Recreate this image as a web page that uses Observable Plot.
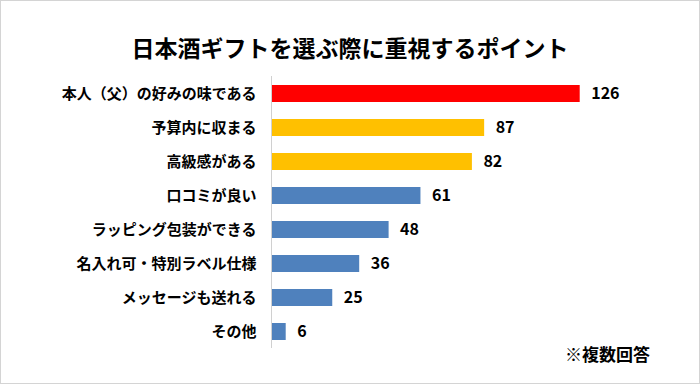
<!DOCTYPE html>
<html>
<head>
<meta charset="utf-8">
<script src="https://cdn.jsdelivr.net/npm/d3@7"></script>
<script src="https://cdn.jsdelivr.net/npm/@observablehq/plot@0.6"></script>
<style>
  body { margin: 0; background: #fff; }
  #wrap { position: relative; width: 700px; height: 384px; overflow: hidden; font-family: 'Noto Sans CJK JP', sans-serif; color: #000; }
  #wrap svg { position: absolute; left: 0; top: 0; }
  #title { position: absolute; left: 0; width: 700px; top: 34px; text-align: center; font-size: 23px; font-weight: bold; line-height: 26px; }
  #note { position: absolute; right: 50px; top: 344px; font-size: 17px; font-weight: bold; line-height: 20px; }
  #border { position: absolute; left: 0; top: 0; width: 700px; height: 384px; box-sizing: border-box; border: 1px solid #d4d4d4; pointer-events: none; }
</style>
</head>
<body>
<div id="wrap">
  <div id="title"></div>
  <div id="note"></div>
  <div id="border"></div>
</div>
<script>
const titleText = "日本酒ギフトを選ぶ際に重視するポイント";
const noteText = "※複数回答";
const categories = [
  "本人（父）の好みの味である",
  "予算内に収まる",
  "高級感がある",
  "口コミが良い",
  "ラッピング包装ができる",
  "名入れ可・特別ラベル仕様",
  "メッセージも送れる",
  "その他"
];
const values = [126, 87, 82, 61, 48, 36, 25, 6];
const colors = ["#FF0000", "#FFC000", "#FFC000", "#4F81BD", "#4F81BD", "#4F81BD", "#4F81BD", "#4F81BD"];

const data = categories.map((c, i) => ({category: c, value: values[i], color: colors[i]}));

const chart = Plot.plot({
  width: 700,
  height: 384,
  marginLeft: 271,
  marginRight: 86,
  marginTop: 76,
  marginBottom: 36,
  style: {fontFamily: "'Noto Sans CJK JP', sans-serif", color: "#000", background: "transparent"},
  x: {domain: [0, 140], axis: null},
  y: {domain: categories, paddingInner: 0.5, paddingOuter: 0.25, label: null},
  color: {type: "identity"},
  marks: [
    Plot.barX(data, {x: "value", y: "category", fill: "color"}),
    Plot.ruleX([0], {stroke: "#d0d0d0", strokeWidth: 1}),
    Plot.text(data, {x: "value", y: "category", text: d => String(d.value), textAnchor: "start", dx: 11, fontSize: 16, fontWeight: "bold", fill: "#000"}),
    Plot.axisY({tickSize: 0, tickPadding: 15, fontSize: 15, fontWeight: "bold", fill: "#000", label: null})
  ]
});
const wrap = document.getElementById("wrap");
wrap.insertBefore(chart, wrap.firstChild);
document.getElementById("title").textContent = titleText;
document.getElementById("note").textContent = noteText;
</script>
</body>
</html>
